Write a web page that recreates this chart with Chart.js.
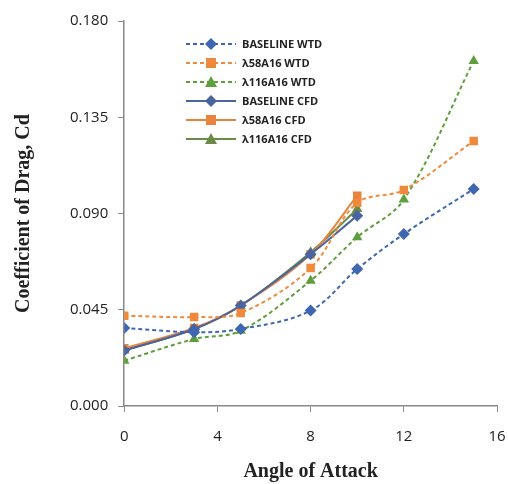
<!DOCTYPE html>
<html>
<head>
<meta charset="utf-8">
<script src="https://cdn.jsdelivr.net/npm/chart.js@4"></script>
<style>
body { margin: 0; background: #fff; }
#wrap { width: 508px; height: 484px; }
</style>
</head>
<body>
<div id="wrap"><canvas id="myChart"></canvas></div>
<script>
const seriesNames = ['BASELINE WTD', 'λ58A16 WTD', 'λ116A16 WTD', 'BASELINE CFD', 'λ58A16 CFD', 'λ116A16 CFD'];
const wtdAngles = [0, 3, 5, 8, 10, 12, 15];
const cfdAngles = [0, 3, 5, 8, 10];
const baselineWtd = [0.0365, 0.0345, 0.036, 0.0446, 0.064, 0.0804, 0.1015];
const l58Wtd = [0.0422, 0.0416, 0.0435, 0.0645, 0.095, 0.1010, 0.1239];
const l116Wtd = [0.0212, 0.0313, 0.0352, 0.0586, 0.0789, 0.0965, 0.1613];
const baselineCfd = [0.026, 0.036, 0.047, 0.071, 0.089];
const l58Cfd = [0.027, 0.0365, 0.047, 0.071, 0.0983];
const l116Cfd = [0.0259, 0.036, 0.0469, 0.0719, 0.0921];
const yTicks = [0, 0.045, 0.09, 0.135, 0.18];

function pts(xs, ys) {
    return xs.map((x, i) => ({ x: x, y: ys[i] }));
}

const blue = '#3f66b0';
const orange = '#ef8a3c';
const green = '#5f9e3c';

function makeSet(i, xs, ys, color, style, dashed) {
    return {
        label: seriesNames[i],
        data: pts(xs, ys),
        borderColor: color,
        backgroundColor: color,
        borderWidth: 2,
        borderDash: dashed ? [4, 3] : [],
        pointStyle: style,
        pointRadius: 6,
        pointBorderWidth: 0,
        tension: 0.35,
        fill: false
    };
}

// legend drawn inside the plot, like the original
const innerLegend = {
    id: 'innerLegend',
    afterDraw(chart) {
        const c = chart.ctx;
        c.save();
        chart.data.datasets.forEach((ds, i) => {
            const y = 44 + i * 19;
            c.strokeStyle = ds.borderColor;
            c.lineWidth = 2;
            c.setLineDash(ds.borderDash);
            c.beginPath();
            c.moveTo(186, y);
            c.lineTo(236, y);
            c.stroke();
            c.setLineDash([]);
            c.fillStyle = ds.backgroundColor;
            const mx = 211;
            c.beginPath();
            if (ds.pointStyle === 'rectRot') {
                c.moveTo(mx, y - 6); c.lineTo(mx + 6, y); c.lineTo(mx, y + 6); c.lineTo(mx - 6, y);
            } else if (ds.pointStyle === 'rect') {
                c.rect(mx - 5, y - 5, 10, 10);
            } else {
                c.moveTo(mx, y - 6); c.lineTo(mx + 6, y + 5); c.lineTo(mx - 6, y + 5);
            }
            c.closePath();
            c.fill();
            c.fillStyle = '#222';
            c.font = 'bold 11px "Open Sans"';
            c.textBaseline = 'middle';
            c.fillText(ds.label, 242, y + 1);
        });
        c.restore();
    }
};

const config = {
    type: 'line',
    data: {
        datasets: [
            makeSet(0, wtdAngles, baselineWtd, blue, 'rectRot', true),
            makeSet(1, wtdAngles, l58Wtd, orange, 'rect', true),
            makeSet(2, wtdAngles, l116Wtd, green, 'triangle', true),
            makeSet(3, cfdAngles, baselineCfd, '#4a64a0', 'rectRot', false),
            makeSet(4, cfdAngles, l58Cfd, '#e8843e', 'rect', false),
            makeSet(5, cfdAngles, l116Cfd, '#6a8a48', 'triangle', false)
        ]
    },
    options: {
        responsive: true,
        maintainAspectRatio: false,
        animation: false,
        layout: { padding: { left: 8, right: 11, top: 21, bottom: 0 } },
        plugins: {
            legend: { display: false },
            tooltip: { enabled: false }
        },
        scales: {
            x: {
                type: 'linear',
                min: 0,
                max: 16,
                afterFit: function (scale) {
                    scale.paddingRight = 0;
                },
                ticks: { stepSize: 4, color: '#222', font: { family: 'Open Sans', size: 15 }, padding: 16 },
                grid: { drawOnChartArea: false, drawTicks: true, tickLength: 6, color: '#888' },
                border: { color: '#888', width: 1.5 },
                title: { display: true, text: 'Angle of Attack', color: '#222', font: { family: 'Liberation Serif', size: 20, weight: 'bold', lineHeight: 1 }, padding: { top: 0, bottom: 2 } }
            },
            y: {
                min: 0,
                max: 0.18,
                afterBuildTicks: function (axis) {
                    axis.ticks = yTicks.map(v => ({ value: v }));
                },
                ticks: {
                    color: '#222',
                    font: { family: 'Open Sans', size: 15 },
                    padding: 10,
                    callback: v => v.toFixed(3)
                },
                grid: { drawOnChartArea: false, drawTicks: true, tickLength: 6, color: '#888' },
                border: { color: '#888', width: 1.5 },
                title: { display: true, text: 'Coefficient of Drag, Cd', color: '#222', font: { family: 'Liberation Serif', size: 20, weight: 'bold' }, padding: { bottom: 24 } }
            }
        }
    },
    plugins: [innerLegend]
};

const myChart = new Chart(document.getElementById('myChart'), config);
</script>
</body>
</html>
